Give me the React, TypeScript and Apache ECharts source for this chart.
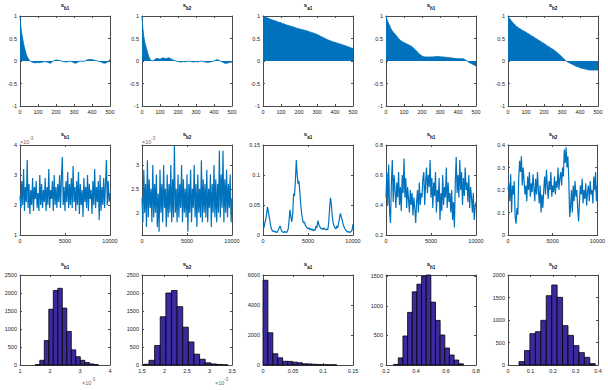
import React, { useEffect, useRef } from 'react';
import * as echarts from 'echarts';

const NAMES = ['b1', 'b2', 'a1', 'h1', 'h2'];

// ---- Row 1: autocorrelation ----
const ACF_LAGS = [0, 5, 10, 15, 20, 25, 30, 35, 40, 45, 50, 60, 70, 80, 90, 100, 110, 120, 130, 140, 150, 160, 170, 180, 190, 200, 210, 220, 230, 240, 250, 260, 270, 280, 290, 300, 310, 320, 330, 340, 350, 360, 370, 380, 390, 400, 410, 420, 430, 440, 450, 460, 470, 480, 490, 500];
const ACF_B1 = [1, 0.75, 0.6, 0.5, 0.38, 0.3, 0.22, 0.15, 0.1, 0.06, 0.03, -0.01, -0.03, -0.04, -0.04, -0.03, -0.04, -0.03, -0.02, -0.01, -0.02, -0.04, -0.05, -0.01, 0.01, 0.02, 0.02, 0.01, 0.0, -0.01, -0.02, -0.02, -0.01, 0.0, -0.02, -0.04, -0.05, -0.03, -0.01, 0.0, -0.01, 0.0, 0.02, 0.03, 0.04, 0.03, 0.02, 0.01, 0.0, -0.01, -0.02, -0.04, -0.05, -0.04, -0.01, 0.03];
const ACF_B2 = [1, 0.72, 0.55, 0.42, 0.35, 0.28, 0.2, 0.14, 0.08, 0.04, 0.01, 0.0, 0.03, 0.06, 0.05, 0.04, 0.06, 0.07, 0.05, 0.06, 0.07, 0.05, 0.03, 0.01, 0.0, -0.01, -0.02, -0.02, -0.01, -0.02, -0.01, 0.0, -0.01, -0.02, -0.02, -0.01, -0.02, -0.01, 0.0, -0.01, -0.02, -0.03, -0.03, -0.02, -0.01, 0.0, 0.02, 0.03, 0.01, -0.01, -0.03, -0.05, -0.05, -0.04, -0.03, -0.02];
const ACF_A1 = [1, 0.99, 0.98, 0.97, 0.965, 0.955, 0.95, 0.94, 0.935, 0.925, 0.915, 0.9, 0.89, 0.87, 0.86, 0.85, 0.83, 0.82, 0.8, 0.79, 0.78, 0.765, 0.755, 0.74, 0.725, 0.715, 0.705, 0.695, 0.685, 0.675, 0.66, 0.645, 0.635, 0.62, 0.605, 0.59, 0.57, 0.55, 0.53, 0.51, 0.49, 0.47, 0.455, 0.44, 0.425, 0.415, 0.4, 0.39, 0.375, 0.36, 0.35, 0.335, 0.32, 0.305, 0.29, 0.28];
const ACF_H1 = [1, 0.93, 0.88, 0.83, 0.79, 0.74, 0.7, 0.67, 0.64, 0.62, 0.6, 0.55, 0.5, 0.46, 0.43, 0.41, 0.39, 0.37, 0.35, 0.33, 0.3, 0.26, 0.22, 0.18, 0.14, 0.11, 0.095, 0.09, 0.09, 0.09, 0.09, 0.09, 0.095, 0.1, 0.1, 0.095, 0.09, 0.09, 0.085, 0.08, 0.075, 0.07, 0.065, 0.06, 0.055, 0.05, 0.05, 0.05, 0.05, 0.03, 0.0, -0.03, -0.05, -0.07, -0.09, -0.11];
const ACF_H2 = [1, 0.97, 0.94, 0.91, 0.89, 0.86, 0.84, 0.82, 0.8, 0.78, 0.76, 0.73, 0.71, 0.68, 0.66, 0.64, 0.61, 0.59, 0.56, 0.54, 0.51, 0.49, 0.46, 0.44, 0.41, 0.39, 0.36, 0.33, 0.31, 0.28, 0.26, 0.23, 0.2, 0.16, 0.13, 0.09, 0.05, 0.01, -0.02, -0.04, -0.06, -0.08, -0.1, -0.12, -0.13, -0.15, -0.16, -0.17, -0.18, -0.19, -0.2, -0.2, -0.2, -0.2, -0.2, -0.2];
const ACF_X_TICKS = [0, 100, 200, 300, 400, 500];
const ACF_Y_TICKS = [-1, -0.5, 0, 0.5, 1];

// ---- Row 2: traces (iteration every 100) ----
const TRACE_ITER = Array.from({ length: 101 }, (_, i) => i * 100);
const TRACE_B1 = [2.3, 1.9, 2.8, 2.0, 3.2, 1.8, 2.6, 2.1, 3.5, 1.9, 2.7, 1.7, 2.5, 2.0, 2.9, 1.8, 2.6, 2.2, 2.8, 1.9, 2.4, 1.8, 3.0, 2.0, 2.7, 1.9, 2.5, 2.1, 2.9, 1.8, 2.6, 2.0, 3.2, 1.9, 2.5, 2.2, 2.8, 1.8, 3.0, 2.0, 2.6, 1.9, 2.7, 2.1, 3.0, 1.9, 2.9, 3.6, 2.0, 2.6, 1.8, 2.8, 2.1, 3.1, 1.9, 2.7, 2.0, 2.9, 1.9, 3.3, 2.1, 2.6, 1.8, 2.8, 2.0, 3.1, 1.7, 2.7, 2.0, 2.5, 1.6, 2.9, 2.1, 2.6, 1.9, 3.0, 1.8, 2.7, 2.2, 2.5, 1.7, 2.8, 2.0, 3.2, 1.9, 2.6, 2.1, 2.8, 1.5, 3.0, 1.8, 2.6, 2.0, 2.9, 1.9, 2.7, 3.5, 2.0, 2.8, 2.1, 2.4];
const TRACE_B2 = [2.3, 1.8, 2.9, 2.0, 2.6, 1.7, 3.1, 1.9, 2.7, 2.1, 2.5, 1.8, 3.0, 1.9, 2.6, 2.0, 2.8, 1.7, 2.4, 1.6, 2.9, 2.0, 2.6, 1.8, 3.0, 2.1, 2.5, 1.7, 2.8, 1.9, 2.6, 2.0, 3.0, 1.8, 2.7, 1.9, 3.4, 2.0, 2.5, 1.8, 2.8, 1.9, 2.6, 2.1, 3.0, 1.8, 2.7, 2.0, 2.5, 1.9, 2.8, 1.6, 2.6, 2.0, 2.9, 1.8, 2.5, 2.1, 3.0, 1.9, 2.6, 1.7, 2.8, 2.0, 2.5, 1.9, 3.1, 1.8, 2.7, 2.0, 2.6, 1.9, 2.9, 1.8, 2.5, 2.1, 2.8, 1.7, 2.6, 2.0, 3.0, 1.9, 2.7, 1.8, 2.6, 2.0, 3.3, 1.9, 2.8, 2.1, 3.3, 1.8, 2.7, 2.0, 2.9, 1.9, 2.6, 2.1, 2.8, 1.8, 2.3];
const TRACE_A1 = [0.015, 0.012, 0.02, 0.025, 0.035, 0.047, 0.038, 0.03, 0.02, 0.012, 0.008, 0.006, 0.007, 0.005, 0.006, 0.004, 0.005, 0.008, 0.012, 0.015, 0.01, 0.006, 0.005, 0.004, 0.006, 0.005, 0.004, 0.006, 0.01, 0.025, 0.042, 0.03, 0.022, 0.035, 0.069, 0.065, 0.09, 0.125, 0.1, 0.085, 0.09, 0.07, 0.05, 0.035, 0.025, 0.02, 0.022, 0.016, 0.014, 0.012, 0.01, 0.012, 0.009, 0.011, 0.008, 0.01, 0.007, 0.009, 0.008, 0.015, 0.012, 0.024, 0.018, 0.014, 0.012, 0.01, 0.011, 0.009, 0.012, 0.01, 0.008, 0.01, 0.009, 0.02, 0.045, 0.062, 0.05, 0.03, 0.02, 0.015, 0.012, 0.01, 0.015, 0.012, 0.02, 0.028, 0.036, 0.03, 0.025, 0.018, 0.014, 0.01, 0.008, 0.006, 0.005, 0.006, 0.004, 0.005, 0.006, 0.008, 0.018];
const TRACE_H1 = [0.45, 0.62, 0.4, 0.67, 0.35, 0.28, 0.55, 0.7, 0.42, 0.6, 0.5, 0.38, 0.55, 0.45, 0.62, 0.4, 0.52, 0.36, 0.6, 0.48, 0.71, 0.45, 0.58, 0.38, 0.52, 0.44, 0.35, 0.5, 0.4, 0.48, 0.33, 0.45, 0.38, 0.28, 0.42, 0.5, 0.35, 0.55, 0.4, 0.48, 0.45, 0.58, 0.62, 0.4, 0.55, 0.65, 0.48, 0.6, 0.52, 0.7, 0.45, 0.58, 0.38, 0.55, 0.46, 0.62, 0.35, 0.5, 0.42, 0.58, 0.3, 0.48, 0.36, 0.6, 0.4, 0.52, 0.45, 0.65, 0.38, 0.55, 0.42, 0.48, 0.35, 0.5, 0.3, 0.42, 0.25, 0.55, 0.72, 0.48, 0.6, 0.45, 0.7, 0.5, 0.62, 0.4, 0.58, 0.46, 0.65, 0.5, 0.55, 0.42, 0.6, 0.38, 0.52, 0.45, 0.35, 0.48, 0.3, 0.38, 0.42];
const TRACE_H2 = [0.2, 0.23, 0.15, 0.27, 0.1, 0.22, 0.18, 0.24, 0.08, 0.05, 0.12, 0.09, 0.25, 0.33, 0.28, 0.35, 0.22, 0.3, 0.24, 0.18, 0.22, 0.15, 0.26, 0.2, 0.28, 0.17, 0.23, 0.19, 0.27, 0.21, 0.15, 0.25, 0.18, 0.28, 0.2, 0.14, 0.22, 0.1, 0.18, 0.12, 0.2, 0.26, 0.18, 0.29, 0.22, 0.16, 0.24, 0.2, 0.28, 0.17, 0.22, 0.19, 0.26, 0.18, 0.24, 0.21, 0.3, 0.2, 0.25, 0.28, 0.22, 0.3, 0.26, 0.38, 0.32, 0.39, 0.3, 0.35, 0.25, 0.08, 0.12, 0.2, 0.1, 0.22, 0.15, 0.24, 0.17, 0.2, 0.12, 0.06, 0.15, 0.22, 0.18, 0.25, 0.14, 0.2, 0.16, 0.23, 0.13, 0.19, 0.22, 0.15, 0.24, 0.18, 0.2, 0.14, 0.26, 0.2, 0.28, 0.15, 0.22];
const TRACE_X_TICKS = [0, 5000, 10000];
const TRACE_Y_RANGE = [[1, 4], [1.53, 3.42], [0, 0.15], [0.2, 0.8], [0, 0.4]];
const TRACE_Y_TICKS = [[1, 2, 3, 4], [2, 2.5, 3], [0, 0.05, 0.1, 0.15], [0.2, 0.4, 0.6, 0.8], [0, 0.1, 0.2, 0.3, 0.4]];

// ---- Row 3: histograms ----
const HIST_START = [1.51, 1.53, 0, 0.251, 0.049];
const HIST_WIDTH = [0.15, 0.125, 0.0082, 0.031, 0.0242];
const HIST_B1 = [10, 130, 680, 1550, 2070, 2130, 1580, 930, 420, 230, 130, 70, 30, 10];
const HIST_B2 = [20, 130, 540, 1340, 2000, 2070, 1620, 1050, 640, 300, 160, 60, 30, 15, 5];
const HIST_A1 = [5650, 2150, 750, 480, 250, 240, 190, 150, 80, 70, 50, 30, 20, 15, 10];
const HIST_H1 = [10, 120, 490, 888, 1236, 1365, 1500, 1520, 1062, 753, 506, 287, 169, 84, 20];
const HIST_H2 = [75, 320, 696, 740, 993, 1540, 1778, 1504, 874, 659, 430, 274, 170, 30];
const HIST_X_RANGE = [[1, 4], [1.5, 3.5], [0, 0.15], [0.2, 0.8], [0, 0.4]];
const HIST_X_TICKS = [[1, 2, 3, 4], [1.5, 2, 2.5, 3, 3.5], [0, 0.05, 0.1, 0.15], [0.2, 0.4, 0.6, 0.8], [0, 0.1, 0.2, 0.3, 0.4]];
const HIST_Y_RANGE = [[0, 2500], [0, 2500], [0, 6000], [0, 1520], [0, 2000]];
const HIST_Y_TICKS = [[0, 500, 1000, 1500, 2000, 2500], [0, 500, 1000, 1500, 2000, 2500], [0, 2000, 4000, 6000], [0, 500, 1000, 1500], [0, 500, 1000, 1500, 2000]];

const ACF = [ACF_B1, ACF_B2, ACF_A1, ACF_H1, ACF_H2];
const TRACES = [TRACE_B1, TRACE_B2, TRACE_A1, TRACE_H1, TRACE_H2];
const HISTS = [HIST_B1, HIST_B2, HIST_A1, HIST_H1, HIST_H2];

const LEFTS = [20, 142, 263, 386, 508];
const TOPS = [16, 145, 275];
const PW = 90;
const PH = 90;
const BLUE = '#0072BD';
const HIST_FILL = '#3a2a9e';
const AXIS_COLOR = '#4a4a4a';
const FONT = 'Liberation Sans, Arial, sans-serif';
const EXP_HIST_X = [82, 215];

function fmt(v: number) {
  return String(v);
}

function makeAxes(dim: 'x' | 'y', grid: number, range: number[], ticks: number[]) {
  const base = {
    type: 'value',
    gridIndex: grid,
    min: range[0],
    max: range[1],
    scale: true,
    splitLine: { show: false },
    axisLine: { show: true, onZero: false, lineStyle: { color: AXIS_COLOR, width: 1 } },
    axisTick: { show: true, inside: true, length: 2, customValues: ticks, lineStyle: { color: AXIS_COLOR } },
  };
  const main = {
    ...base,
    position: dim === 'x' ? 'bottom' : 'left',
    axisLabel: {
      show: true,
      customValues: ticks,
      formatter: fmt,
      fontSize: 5.5,
      color: '#222',
      fontFamily: FONT,
      margin: 3,
      showMinLabel: true,
      showMaxLabel: true,
    },
  };
  const mirror = {
    ...base,
    position: dim === 'x' ? 'top' : 'right',
    axisLabel: { show: false },
  };
  return [main, mirror];
}

export default function App() {
  const ref = useRef<HTMLDivElement>(null);
  useEffect(() => {
    if (!ref.current) return;
    const chart = echarts.init(ref.current, null, { renderer: 'svg' });
    const grid: any[] = [];
    const xAxis: any[] = [];
    const yAxis: any[] = [];
    const series: any[] = [];
    const graphic: any[] = [];
    const titleRich = {
      s: { fontSize: 6, fontWeight: 'bold', color: '#000', fontFamily: FONT, verticalAlign: 'top', lineHeight: 9 },
      sub: { fontSize: 4.5, fontWeight: 'bold', color: '#000', fontFamily: FONT, verticalAlign: 'bottom', lineHeight: 9 },
    };
    const titleTops = [2, 131, 261];

    for (let r = 0; r < 3; r++) {
      for (let c = 0; c < 5; c++) {
        const g = r * 5 + c;
        grid.push({ left: LEFTS[c], top: TOPS[r], width: PW, height: PH, show: false });
        let xr: number[], xt: number[], yr: number[], yt: number[];
        if (r === 0) {
          xr = [0, 500]; xt = ACF_X_TICKS; yr = [-1, 1]; yt = ACF_Y_TICKS;
        } else if (r === 1) {
          xr = [0, 10000]; xt = TRACE_X_TICKS; yr = TRACE_Y_RANGE[c]; yt = TRACE_Y_TICKS[c];
        } else {
          xr = HIST_X_RANGE[c]; xt = HIST_X_TICKS[c]; yr = HIST_Y_RANGE[c]; yt = HIST_Y_TICKS[c];
        }
        xAxis.push(...makeAxes('x', g, xr, xt));
        yAxis.push(...makeAxes('y', g, yr, yt));
        const xi = 2 * g;
        const yi = 2 * g;
        if (r === 0) {
          series.push({
            type: 'line',
            xAxisIndex: xi,
            yAxisIndex: yi,
            data: ACF_LAGS.map((l, i) => [l, ACF[c][i]]),
            symbol: 'none',
            lineStyle: { color: BLUE, width: 0.8 },
            areaStyle: { color: BLUE, opacity: 1, origin: 0 },
            silent: true,
          });
        } else if (r === 1) {
          series.push({
            type: 'line',
            xAxisIndex: xi,
            yAxisIndex: yi,
            data: TRACE_ITER.map((t, i) => [t, TRACES[c][i]]),
            symbol: 'none',
            lineStyle: { color: BLUE, width: 1.2 },
            silent: true,
          });
        } else {
          const start = HIST_START[c];
          const w = HIST_WIDTH[c];
          series.push({
            type: 'custom',
            xAxisIndex: xi,
            yAxisIndex: yi,
            data: HISTS[c].map((n, i) => [start + i * w, start + (i + 1) * w, n]),
            encode: { x: [0, 1], y: 2 },
            silent: true,
            renderItem: (params: any, api: any) => {
              const p0 = api.coord([api.value(0), 0]);
              const p1 = api.coord([api.value(1), api.value(2)]);
              return {
                type: 'rect',
                shape: { x: p0[0], y: p1[1], width: p1[0] - p0[0], height: p0[1] - p1[1] },
                style: { fill: HIST_FILL, stroke: '#000', lineWidth: 0.8 },
              };
            },
          });
        }
        graphic.push({
          type: 'text',
          x: LEFTS[c] + PW / 2,
          y: titleTops[r],
          style: { text: `{s|s}{sub|${NAMES[c]}}`, rich: titleRich, align: 'center', verticalAlign: 'top' },
        });
      }
    }
    const expRich = {
      a: { fontSize: 5.5, fill: '#666', color: '#666', fontFamily: FONT, verticalAlign: 'bottom', lineHeight: 9 },
      e: { fontSize: 4.5, fill: '#666', color: '#666', fontFamily: FONT, verticalAlign: 'top', lineHeight: 9 },
    };
    [0, 1].forEach((c) => {
      graphic.push({
        type: 'text',
        x: LEFTS[c],
        y: TOPS[1] - 9,
        style: { text: '{a|×10}{e|-3}', rich: expRich, fill: '#666', align: 'left', verticalAlign: 'top' },
      });
      graphic.push({
        type: 'text',
        x: EXP_HIST_X[c],
        y: TOPS[2] + PH + 12,
        style: { text: '{a|×10}{e|-3}', rich: expRich, fill: '#666', align: 'left', verticalAlign: 'top' },
      });
    });

    chart.setOption({
      animation: false,
      backgroundColor: '#fff',
      textStyle: { fontFamily: FONT },
      grid,
      xAxis,
      yAxis,
      series,
      graphic,
    });
    return () => chart.dispose();
  }, []);
  return <div ref={ref} style={{ position: 'fixed', left: 0, top: 0, width: 608, height: 390 }} />;
}
